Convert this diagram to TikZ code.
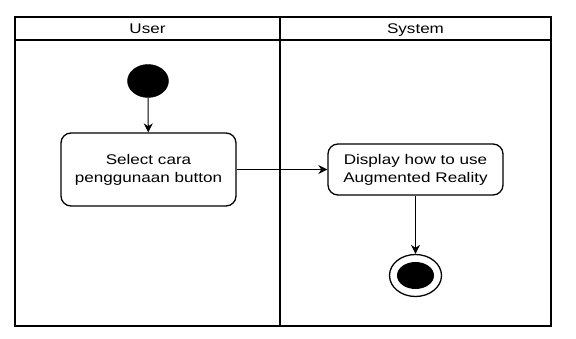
\documentclass[tikz,border=0pt]{standalone}
\usepackage{fontspec}
\setmainfont{Liberation Sans}[FakeStretch=1.22]
\usetikzlibrary{arrows.meta,shapes.geometric}
\tikzset{
  lane/.style={draw=black, line width=2.4pt},
  action/.style={draw=black, line width=1.3pt, rounded corners=10pt, fill=white,
    align=center, font=\fontsize{14}{18}\selectfont, inner sep=0pt},
  startnode/.style={ellipse, fill=black, draw=black, minimum width=41pt, minimum height=33pt, inner sep=0pt},
  endnode/.style={ellipse, draw=black, line width=1.3pt, fill=white, minimum width=52pt, minimum height=42pt, inner sep=0pt},
  endcore/.style={ellipse, fill=black, minimum width=37pt, minimum height=27pt, inner sep=0pt},
  flow/.style={draw=black, line width=1pt, -{Stealth[length=9pt,width=9pt]}},
  header/.style={font=\fontsize{14}{16}\selectfont, anchor=base}
}
\begin{document}
\begin{tikzpicture}[x=1pt, y=-1pt]
  \useasboundingbox (0,0) rectangle (576,339);
  % swimlane frame
  \draw[lane] (15,17) rectangle (551,326);
  \draw[lane] (15,40) -- (551,40);
  \draw[lane] (280,17) -- (280,326);
  \node[header] (hUser) at (147.5,33.5) {User};
  \node[header] (hSystem) at (415.5,33.5) {System};
  % activity nodes
  \node[startnode] (start) at (148,81) {};
  \node[action, minimum width=175pt, minimum height=73pt] (select) at (148.5,169.5) {Select cara\\penggunaan button};
  \node[action, minimum width=175pt, minimum height=51pt] (display) at (415.5,169.5) {Display how to use\\Augmented Reality};
  \node[endnode] (final) at (415.5,275.5) {};
  \node[endcore] (finalcore) at (final.center) {};
  % control flow
  \draw[flow] (start) -- (select);
  \draw[flow] (select) -- (display);
  \draw[flow] (display) -- (final);
\end{tikzpicture}
\end{document}
